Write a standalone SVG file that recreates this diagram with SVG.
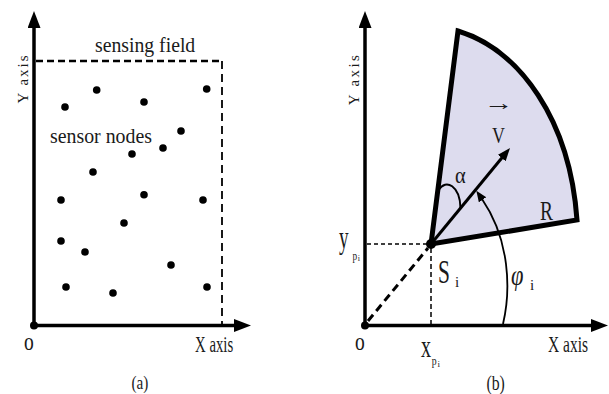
<svg xmlns="http://www.w3.org/2000/svg" width="609" height="394" viewBox="0 0 609 394">
<style>
text{font-family:'Liberation Serif','DejaVu Serif',serif;fill:#1a1a1a}
.ax{stroke:#000;stroke-width:3.5;fill:none}
.dot{fill:#000}
</style>
<defs>
<marker id="axh" markerUnits="userSpaceOnUse" markerWidth="18" markerHeight="14" refX="1" refY="6.5" orient="auto"><path d="M0,0 L17,6.5 L0,13 z" fill="#000"/></marker>
<marker id="vh" markerUnits="userSpaceOnUse" markerWidth="14" markerHeight="11" refX="1" refY="5" orient="auto"><path d="M0,0 L13,5 L0,10 z" fill="#000"/></marker>
<marker id="ph" markerUnits="userSpaceOnUse" markerWidth="12" markerHeight="10" refX="1" refY="4.5" orient="auto"><path d="M0,0 L11,4.5 L0,9 z" fill="#000"/></marker>
</defs>

<!-- Panel (a) -->
<g id="panel-a">
  <g id="a-field">
    <line x1="36" y1="61" x2="222" y2="61" stroke="#000" stroke-width="2.5" stroke-dasharray="7 4"/>
    <line x1="222" y1="61" x2="222" y2="324" stroke="#000" stroke-width="1.8" stroke-dasharray="8 5"/>
  </g>
  <g id="a-axes">
    <line class="ax" x1="34" y1="325.5" x2="34" y2="27" marker-end="url(#axh)"/>
    <line class="ax" x1="34" y1="325.5" x2="235" y2="325.5" marker-end="url(#axh)"/>
    <circle class="dot" cx="34" cy="325.5" r="4"/>
  </g>
  <g id="a-nodes">
    <circle class="dot" cx="96.7" cy="90" r="3.8"/>
    <circle class="dot" cx="206.7" cy="89" r="3.8"/>
    <circle class="dot" cx="65" cy="107" r="3.8"/>
    <circle class="dot" cx="144" cy="102" r="3.8"/>
    <circle class="dot" cx="181" cy="131" r="3.8"/>
    <circle class="dot" cx="163" cy="148" r="3.8"/>
    <circle class="dot" cx="132" cy="154" r="3.8"/>
    <circle class="dot" cx="93" cy="172" r="3.8"/>
    <circle class="dot" cx="61" cy="200" r="3.8"/>
    <circle class="dot" cx="144" cy="194.7" r="3.8"/>
    <circle class="dot" cx="203" cy="200" r="3.8"/>
    <circle class="dot" cx="124" cy="223" r="3.8"/>
    <circle class="dot" cx="61" cy="241" r="3.8"/>
    <circle class="dot" cx="85" cy="252" r="3.8"/>
    <circle class="dot" cx="171" cy="265" r="3.8"/>
    <circle class="dot" cx="66" cy="287" r="3.8"/>
    <circle class="dot" cx="113" cy="293" r="3.8"/>
    <circle class="dot" cx="207" cy="287" r="3.8"/>
  </g>
  <g id="a-labels">
    <text transform="translate(95,52) scale(0.94,1)" font-size="21">sensing field</text>
    <text transform="translate(50,143) scale(0.945,1)" font-size="21">sensor nodes</text>
    <text transform="translate(28,78.5) rotate(-90)" text-anchor="middle" font-size="15" letter-spacing="2">Y axis</text>
    <text transform="translate(24,350) scale(0.75,1)" font-size="26">o</text>
    <text transform="translate(195,352) scale(0.63,1)" font-size="23.5">X axis</text>
    <text transform="translate(131.5,389) scale(0.8,1)" font-size="19">(a)</text>
  </g>
</g>

<!-- Panel (b) -->
<g id="panel-b">
  <g id="b-sector">
    <path d="M431,244 L458,31 C520,50 570,120 577,220 Z" fill="#dddcee" stroke="#000" stroke-width="5" stroke-linejoin="miter"/>
  </g>
  <g id="connectors">
    <line x1="367" y1="244" x2="428" y2="244" stroke="#000" stroke-width="1.5" stroke-dasharray="4 3"/>
    <line x1="431" y1="248" x2="431" y2="324" stroke="#000" stroke-width="1.5" stroke-dasharray="5 3"/>
    <line x1="368" y1="321" x2="428" y2="248" stroke="#000" stroke-width="3" stroke-dasharray="8 5"/>
    <line x1="431" y1="244" x2="502.4" y2="157.3" stroke="#000" stroke-width="3" marker-end="url(#vh)"/>
    <path d="M438.5,190 C446,178 460,186 460.5,208" fill="none" stroke="#000" stroke-width="2"/>
    <path d="M503,324 C511,290 510,240 482,199" fill="none" stroke="#000" stroke-width="1.8" marker-end="url(#ph)"/>
  </g>
  <g id="b-axes">
    <line class="ax" x1="365" y1="325.5" x2="365" y2="27" marker-end="url(#axh)"/>
    <line class="ax" x1="365" y1="325.5" x2="592" y2="325.5" marker-end="url(#axh)"/>
    <circle class="dot" cx="365" cy="325.5" r="4"/>
  </g>
  <g id="b-node">
    <circle class="dot" cx="431" cy="244" r="5"/>
  </g>
  <g id="b-labels">
    <text transform="translate(359,79) rotate(-90)" text-anchor="middle" font-size="15" letter-spacing="2.4">Y axis</text>
    <text transform="translate(355,350) scale(0.75,1)" font-size="26">o</text>
    <text transform="translate(548,352) scale(0.66,1)" font-size="23.5">X axis</text>
    <text transform="translate(486.5,390) scale(0.75,1)" font-size="21">(b)</text>
    <text transform="translate(484,110) scale(1.35,1)" font-size="22">→</text>
    <text transform="translate(492,143) scale(0.75,1)" font-size="24">V</text>
    <text transform="translate(455,183) scale(0.85,1)" font-size="24">α</text>
    <text transform="translate(540,220) scale(0.72,1)" font-size="27">R</text>
    <text transform="translate(438,283) scale(0.65,1)" font-size="33">S</text>
    <text x="455" y="287" font-size="15">i</text>
    <text transform="translate(511,285) scale(0.75,1)" font-size="30" font-style="italic">φ</text>
    <text x="530" y="290" font-size="15">i</text>
    <text transform="translate(339,248) scale(0.6,1)" font-size="32">y</text>
    <text transform="translate(352.5,259.5) scale(0.77,1)" font-size="12">p</text>
    <text x="357.8" y="261" font-size="8">i</text>
    <text transform="translate(421,357) scale(0.65,1)" font-size="31">x</text>
    <text transform="translate(431.8,364.5) scale(0.75,1)" font-size="13">p</text>
    <text x="437.5" y="367" font-size="9">i</text>
  </g>
</g>
</svg>
